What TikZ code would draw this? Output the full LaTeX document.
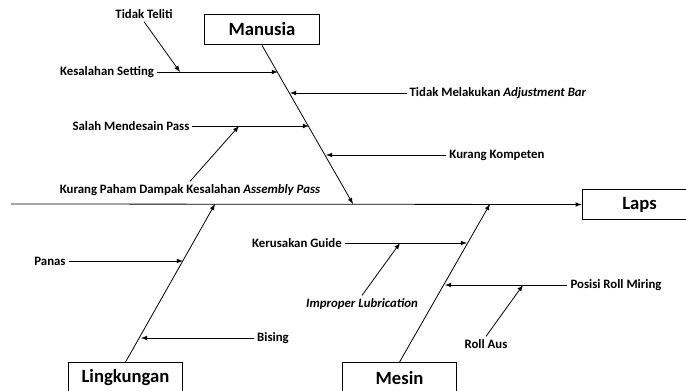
\documentclass[tikz,border=0pt]{standalone}
\usepackage{fontspec}
\setmainfont{Carlito}

\begin{document}
\begin{tikzpicture}[x=0.75pt,y=-0.75pt,-latex,semithick,
    category/.style={rectangle,draw,thick,minimum width=86pt,minimum height=23pt,
    font=\fontsize{14}{16}\selectfont\bfseries},
    cause/.style={font=\fontsize{9.6}{11}\selectfont\bfseries,inner sep=2pt}
    ]
\clip (0,0) rectangle (686,391);

% kategori
\node[category] (man) at (262,29.5) {Manusia};
\node[category] (ling) at (125.5,378) {Lingkungan};
\node[category] (mes) at (399.5,378) {Mesin};
\node[category] (laps) at (639.5,204.5) {Laps};

% tulang utama
\coordinate (tail) at (11,204);
\coordinate (mtip) at (353,204);
\coordinate (ltip) at (215,204);
\coordinate (stip) at (490,204);
\draw (tail) -- (laps.west);
\draw (man.south) -- (mtip);
\draw (ling.north) -- (ltip);
\draw (mes.north) -- (stip);

% penyebab manusia
\node[cause] (teliti) at (144,14) {Tidak Teliti};
\node[cause] (setting) at (107,72) {Kesalahan Setting};
\node[cause] (adjust) at (498,93) {Tidak Melakukan \textit{Adjustment Bar}};
\node[cause] (desain) at (131,126) {Salah Mendesain Pass};
\node[cause] (paham) at (190,190) {Kurang Paham Dampak Kesalahan \textit{Assembly Pass}};
\node[cause] (kompeten) at (497,155) {Kurang Kompeten};
\coordinate (m1) at (278,72);
\coordinate (m2) at (290,93);
\coordinate (m3) at (309,126);
\coordinate (m4) at (326,155);
\coordinate (m1a) at (180,72);
\coordinate (m3a) at (239,126);
\draw (setting.east) -- (m1);
\draw (teliti.south) -- (m1a);
\draw (adjust.west) -- (m2);
\draw (desain.east) -- (m3);
\draw (paham.north) -- (m3a);
\draw (kompeten.west) -- (m4);

% penyebab lingkungan
\node[cause] (panas) at (50,261) {Panas};
\node[cause] (bising) at (273,338) {Bising};
\coordinate (l1) at (183,261);
\coordinate (l2) at (141,338);
\draw (panas.east) -- (l1);
\draw (bising.west) -- (l2);

% penyebab mesin
\node[cause] (guide) at (297,243) {Kerusakan Guide};
\node[cause] (lub) at (362,304) {\textit{Improper Lubrication}};
\node[cause] (miring) at (616,285) {Posisi Roll Miring};
\node[cause] (aus) at (486,344) {Roll Aus};
\coordinate (s1) at (467,243);
\coordinate (s2) at (445,285);
\coordinate (s1a) at (400,243);
\coordinate (s2a) at (523,285);
\draw (guide.east) -- (s1);
\draw (lub.north) -- (s1a);
\draw (miring.west) -- (s2);
\draw (aus.north) -- (s2a);
\end{tikzpicture}
\end{document}
